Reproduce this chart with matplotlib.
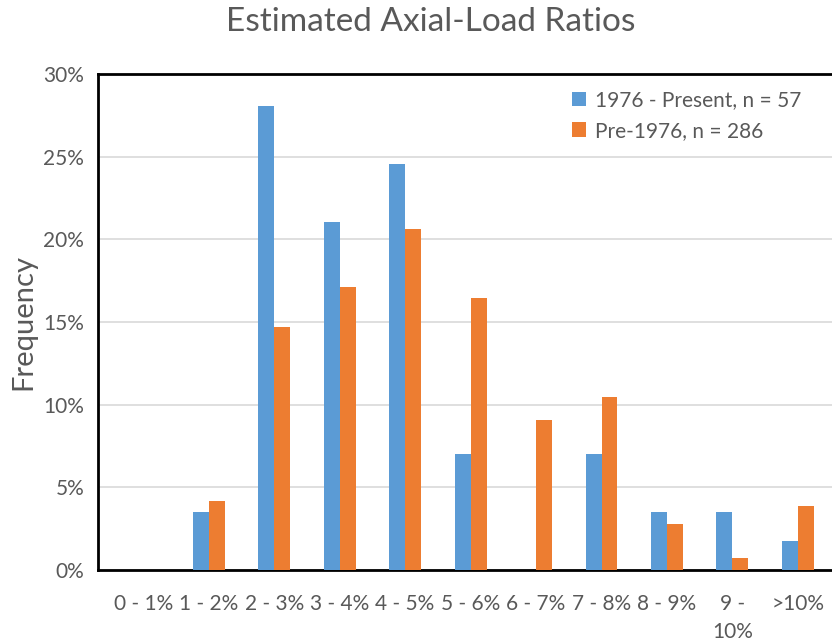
import numpy as np
import matplotlib.pyplot as plt
from matplotlib.ticker import PercentFormatter

categories = ["0 - 1%", "1 - 2%", "2 - 3%", "3 - 4%", "4 - 5%", "5 - 6%",
              "6 - 7%", "7 - 8%", "8 - 9%", "9 -\n10%", ">10%"]
recent = [0.0, 3.51, 28.07, 21.05, 24.56, 7.02, 0.0, 7.02, 3.51, 3.51, 1.75]
pre1976 = [0.0, 4.20, 14.69, 17.13, 20.63, 16.43, 9.09, 10.49, 2.80, 0.70, 3.85]
labels = ["1976 - Present, n = 57", "Pre-1976, n = 286"]

blue = "#5B9BD5"
orange = "#ED7D31"
grey = "#595959"

plt.rcParams['font.family'] = ['Lato', 'DejaVu Sans']

fig = plt.figure(figsize=(8.32, 6.42), dpi=100)
ax = fig.add_axes([98 / 832, 72 / 642, 734 / 832, 496 / 642])

x = np.arange(len(categories))
w = 0.244
ax.bar(x - w / 2, recent, w, color=blue, label=labels[0], zorder=3)
ax.bar(x + w / 2, pre1976, w, color=orange, label=labels[1], zorder=3)

ax.set_xlim(-0.69, 10.52)
ax.set_ylim(0, 30)
ax.set_yticks(np.arange(0, 31, 5))
ax.yaxis.set_major_formatter(PercentFormatter(decimals=0))
ax.grid(axis='y', color='#d9d9d9', linewidth=1.2, zorder=0)

ax.set_xticks(x)
ax.set_xticklabels(categories, linespacing=1.55)
ax.tick_params(axis='both', length=0, labelsize=15, colors=grey)
ax.tick_params(axis='x', pad=17)
ax.tick_params(axis='y', pad=10)

for side in ['left', 'top', 'bottom']:
    ax.spines[side].set_linewidth(2)
    ax.spines[side].set_color('black')
ax.spines['right'].set_visible(False)

ax.set_ylabel("Frequency", fontsize=21, color=grey, labelpad=5)
fig.text(431 / 832, 1 - 22 / 642, "Estimated Axial-Load Ratios",
         fontsize=24, color=grey, ha='center', va='center')

ax.legend(loc='upper left', bbox_to_anchor=(0.62, 1.005), frameon=False,
          fontsize=15, labelcolor=grey, handlelength=0.7, handleheight=0.7,
          handletextpad=0.4, labelspacing=0.5)

fig.savefig("out.png", dpi=100)
